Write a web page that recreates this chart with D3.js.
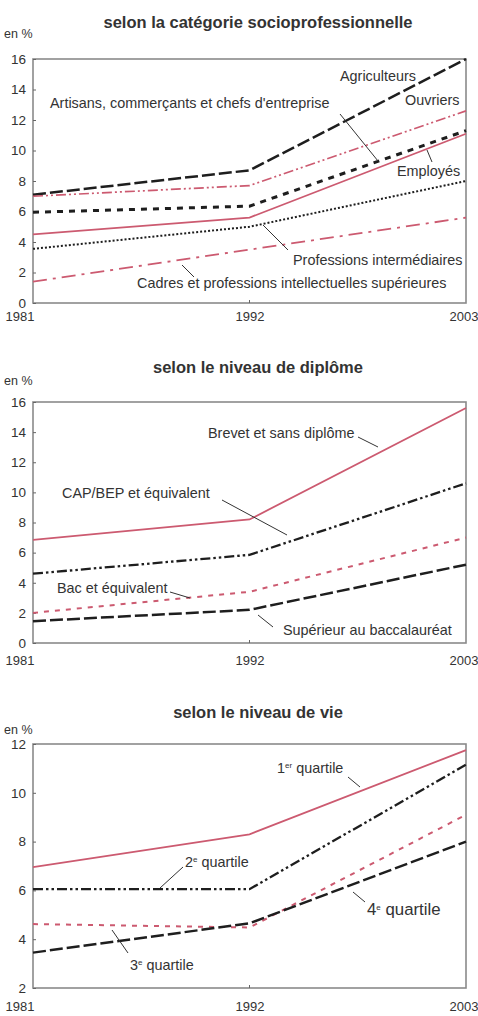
<!DOCTYPE html>
<html>
<head>
<meta charset="utf-8">
<script src="https://cdn.jsdelivr.net/npm/d3@7"></script>
<style>
  body { margin: 0; background: #fff; }
  svg text { font-family: "Liberation Sans", Arial, sans-serif; fill: #333; }
  .title { font-weight: bold; font-size: 16.5px; }
  .tick { font-size: 13px; }
  .lab { font-size: 14.4px; }
</style>
</head>
<body>
<div id="chart"></div>
<script>
// years on the x axis
const years = [1981, 1992, 2003];

// panel 1 : selon la catégorie socioprofessionnelle
const cspNames = ["Agriculteurs", "Artisans, commerçants et chefs d'entreprise", "Ouvriers",
                  "Employés", "Professions intermédiaires", "Cadres et professions intellectuelles supérieures"];
const cspValues = [
  [7.1, 8.7, 16.0],
  [7.0, 7.7, 12.6],
  [5.95, 6.35, 11.3],
  [4.5, 5.6, 11.1],
  [3.55, 5.0, 8.0],
  [1.4, 3.5, 5.6]
];
const cspTicks = [0, 2, 4, 6, 8, 10, 12, 14, 16];

// panel 2 : selon le niveau de diplôme
const dipNames = ["Brevet et sans diplôme", "CAP/BEP et équivalent", "Bac et équivalent", "Supérieur au baccalauréat"];
const dipValues = [
  [6.85, 8.2, 15.6],
  [4.6, 5.85, 10.6],
  [2.0, 3.4, 7.0],
  [1.45, 2.2, 5.2]
];
const dipTicks = [0, 2, 4, 6, 8, 10, 12, 14, 16];

// panel 3 : selon le niveau de vie
const vieNames = ["1er quartile", "2e quartile", "3e quartile", "4e quartile"];
const vieValues = [
  [6.95, 8.3, 11.75],
  [6.05, 6.05, 11.15],
  [4.62, 4.48, 9.1],
  [3.45, 4.65, 8.0]
];
const vieTicks = [2, 4, 6, 8, 10, 12];

const width = 478, height = 1016;
const pink = "#cc5a70", dark = "#1e1e1e";

// line styles (colour, width, dash)
const st = {
  longDash:   { c: dark, w: 2.5, d: "13,4" },
  dashDot2:   { c: dark, w: 2.3, d: "10,3,2.5,3,2.5,3" },
  pinkDash2:  { c: pink, w: 1.7, d: "10,3,2,3,2,3" },
  shortDash:  { c: dark, w: 3, d: "6,6" },
  pinkSolid:  { c: pink, w: 1.8, d: null },
  dotted:     { c: dark, w: 2, d: "2,2" },
  pinkDashDot:{ c: pink, w: 1.8, d: "14,6,3,6" },
  pinkDash:   { c: pink, w: 2, d: "5,6" }
};

const panels = [
  {
    title: "selon la catégorie socioprofessionnelle", titleY: 28, unitY: 38,
    top: 59, bottom: 303, domain: [0, 16], ticks: cspTicks, labY: 322,
    names: cspNames, values: cspValues,
    styles: [st.longDash, st.pinkDash2, st.shortDash, st.pinkSolid, st.dotted, st.pinkDashDot],
    labels: [
      { x: 340, y: 76 }, { x: 50, y: 103, leader: [340, 114, 378, 161] }, { x: 405, y: 100 },
      { x: 397, y: 171, leader: [427, 150, 432, 162] }, { x: 293, y: 260, leader: [263, 225, 288, 250] },
      { x: 137, y: 283, leader: [182, 265, 194, 277] }
    ]
  },
  {
    title: "selon le niveau de diplôme", titleY: 373, unitY: 385,
    top: 402, bottom: 643, domain: [0, 16], ticks: dipTicks, labY: 666,
    names: dipNames, values: dipValues,
    styles: [st.pinkSolid, st.dashDot2, st.pinkDash, st.longDash],
    labels: [
      { x: 208, y: 433, leader: [358, 437, 378, 447] }, { x: 62, y: 493, leader: [222, 500, 287, 535] },
      { x: 57, y: 588, leader: [170, 592, 190, 598] }, { x: 283, y: 630, leader: [258, 615, 273, 627] }
    ]
  },
  {
    title: "selon le niveau de vie", titleY: 718, unitY: 734,
    top: 744, bottom: 988, domain: [2, 12], ticks: vieTicks, labY: 1012,
    names: vieNames, values: vieValues,
    styles: [st.pinkSolid, st.dashDot2, st.pinkDash, st.longDash],
    labels: [
      { x: 277, y: 768, leader: [348, 777, 360, 787] }, { x: 185, y: 862, leader: [183, 867, 160, 888] },
      { x: 130, y: 965, leader: [128, 953, 112, 930] }, { x: 367, y: 910, leader: [353, 892, 365, 902], big: true }
    ]
  }
];

const svg = d3.select("#chart").append("svg")
  .attr("width", width).attr("height", height);

const x = d3.scaleLinear().domain([1981, 2003]).range([33, 466]);

panels.forEach(p => {
  const y = d3.scaleLinear().domain(p.domain).range([p.bottom, p.top]);
  const g = svg.append("g");

  g.append("text").attr("class", "title")
    .attr("x", 258).attr("y", p.titleY).attr("text-anchor", "middle").text(p.title);
  g.append("text").attr("class", "tick").attr("x", 4).attr("y", p.unitY)
    .style("font-size", "12.5px").text("en %");

  // frame
  g.append("rect").attr("x", x(1981)).attr("y", p.top)
    .attr("width", x(2003) - x(1981)).attr("height", p.bottom - p.top)
    .attr("fill", "none").attr("stroke", "#8a8a8a").attr("stroke-width", 1.6);

  // y ticks
  const yAxis = d3.axisLeft(y).tickValues(p.ticks).tickSize(-3).tickPadding(7);
  const ya = g.append("g").attr("transform", `translate(${x(1981)},0)`).call(yAxis);
  ya.select(".domain").remove();
  ya.selectAll("line").attr("stroke", "#666");
  ya.selectAll("text").attr("class", "tick").style("font-size", "13.5px")
    .attr("fill", "#333").attr("font-family", null);

  // x labels
  const xAxis = d3.axisBottom(x).tickValues(years).tickFormat(d3.format("d")).tickSize(0).tickPadding(0);
  const xa = g.append("g").attr("transform", `translate(0,${p.labY - 10})`).call(xAxis);
  xa.select(".domain").remove();
  xa.selectAll("text").attr("class", "tick").style("font-size", "13px").attr("fill", "#333")
    .attr("dy", "0.71em").attr("font-family", null)
    .attr("text-anchor", (d, i) => i === 0 ? "start" : i === 2 ? "end" : "middle")
    .attr("dx", (d, i) => i === 0 ? -28 : i === 2 ? 12 : 0);
  // small tick at 1992
  g.append("line").attr("x1", x(1992)).attr("x2", x(1992))
    .attr("y1", p.bottom).attr("y2", p.bottom - 3).attr("stroke", "#666");

  const line = d3.line().x((d, i) => x(years[i])).y(d => y(d));

  g.selectAll(".series").data(p.values).enter().append("path")
    .attr("d", line)
    .attr("fill", "none")
    .attr("stroke", (d, i) => p.styles[i].c)
    .attr("stroke-width", (d, i) => p.styles[i].w)
    .attr("stroke-dasharray", (d, i) => p.styles[i].d);

  p.labels.forEach((l, i) => {
    if (l.leader) {
      g.append("line").attr("x1", l.leader[0]).attr("y1", l.leader[1])
        .attr("x2", l.leader[2]).attr("y2", l.leader[3])
        .attr("stroke", "#333").attr("stroke-width", 1);
    }
    const name = p.names[i];
    const t = g.append("text").attr("class", "lab").attr("x", l.x).attr("y", l.y + 5);
    if (l.big) t.style("font-size", "16.8px");
    const m = name.match(/^(\d)(er|e) (.*)$/);
    if (m) {
      t.append("tspan").text(m[1]);
      t.append("tspan").attr("dy", -5).style("font-size", "8px").text(m[2]);
      t.append("tspan").attr("dy", 5).text(" " + m[3]);
    } else {
      t.text(name);
    }
  });
});
</script>
</body>
</html>
